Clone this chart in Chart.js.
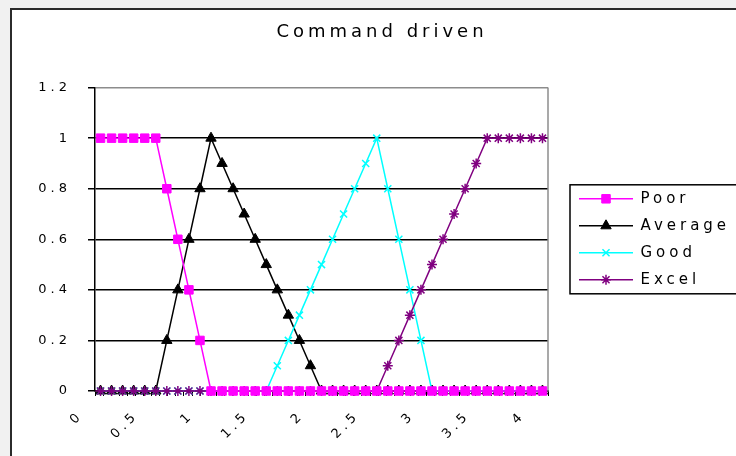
<!DOCTYPE html>
<html lang="en">
<head>
    <meta charset="UTF-8">
    <title>Command driven</title>
    <script src="https://cdn.jsdelivr.net/npm/chart.js@4"></script>
    <style>
        body {
            margin: 0;
            overflow: hidden;
            background: #f1f1f1;
        }
        .frame {
            position: absolute;
            left: 10px;
            top: 8px;
            width: 780px;
            height: 480px;
            background: #fff;
            border: 2px solid #2b2b2b;
        }
        canvas {
            display: block;
        }
    </style>
</head>
<body>
    <div class="frame">
        <canvas id="fuzzyChart" width="740" height="446"></canvas>
    </div>

    <script>
        // x categories (0 .. 4 in steps of 0.1)
        const xValues = [0, 0.1, 0.2, 0.3, 0.4, 0.5, 0.6, 0.7, 0.8, 0.9,
                         1, 1.1, 1.2, 1.3, 1.4, 1.5, 1.6, 1.7, 1.8, 1.9,
                         2, 2.1, 2.2, 2.3, 2.4, 2.5, 2.6, 2.7, 2.8, 2.9,
                         3, 3.1, 3.2, 3.3, 3.4, 3.5, 3.6, 3.7, 3.8, 3.9, 4];
        const xTickLabels = [0, 0.5, 1, 1.5, 2, 2.5, 3, 3.5, 4];
        const yTickValues = [0, 0.2, 0.4, 0.6, 0.8, 1, 1.2];

        // membership values
        const poor = [1, 1, 1, 1, 1, 1, 0.8, 0.6, 0.4, 0.2,
                      0, 0, 0, 0, 0, 0, 0, 0, 0, 0,
                      0, 0, 0, 0, 0, 0, 0, 0, 0, 0,
                      0, 0, 0, 0, 0, 0, 0, 0, 0, 0, 0];
        const average = [0, 0, 0, 0, 0, 0, 0.2, 0.4, 0.6, 0.8,
                         1, 0.9, 0.8, 0.7, 0.6, 0.5, 0.4, 0.3, 0.2, 0.1,
                         0, 0, 0, 0, 0, 0, 0, 0, 0, 0,
                         0, 0, 0, 0, 0, 0, 0, 0, 0, 0, 0];
        const good = [0, 0, 0, 0, 0, 0, 0, 0, 0, 0,
                      0, 0, 0, 0, 0, 0, 0.1, 0.2, 0.3, 0.4,
                      0.5, 0.6, 0.7, 0.8, 0.9, 1, 0.8, 0.6, 0.4, 0.2,
                      0, 0, 0, 0, 0, 0, 0, 0, 0, 0, 0];
        const excel = [0, 0, 0, 0, 0, 0, 0, 0, 0, 0,
                       0, 0, 0, 0, 0, 0, 0, 0, 0, 0,
                       0, 0, 0, 0, 0, 0, 0.1, 0.2, 0.3, 0.4,
                       0.5, 0.6, 0.7, 0.8, 0.9, 1, 1, 1, 1, 1, 1];

        const FONT = 'DejaVu Sans';
        const LETTER_SPACING = '4px';
        const toPoints = ys => xValues.map((x, i) => ({ x: x, y: ys[i] }));

        // wide spaced lettering like the old spreadsheet font
        const spacing = {
            id: 'spacing',
            beforeUpdate(chart) { chart.ctx.letterSpacing = LETTER_SPACING; },
            beforeDraw(chart) { chart.ctx.letterSpacing = LETTER_SPACING; }
        };

        // keep the legend column a fixed width so the plot ends where it should
        const legendWidth = {
            id: 'legendWidth',
            beforeLayout(chart) {
                const lg = chart.legend;
                if (lg && !lg._fixedWidth) {
                    const fit = lg.fit;
                    lg.fit = function () {
                        fit.call(this);
                        this.width = 204;
                    };
                    lg._fixedWidth = true;
                }
            }
        };

        // grey right edge of the plot area
        const plotEdge = {
            id: 'plotEdge',
            beforeDatasetsDraw(chart) {
                const ctx = chart.ctx, a = chart.chartArea;
                ctx.save();
                ctx.strokeStyle = '#8c8c8c';
                ctx.lineWidth = 1.5;
                ctx.beginPath();
                ctx.moveTo(a.right, a.top);
                ctx.lineTo(a.right, a.bottom);
                ctx.stroke();
                ctx.restore();
            }
        };

        // legend samples: line with marker, plus a frame round the legend
        const legendSamples = {
            id: 'legendSamples',
            afterDraw(chart) {
                const lg = chart.legend, ctx = chart.ctx;
                const boxes = lg.legendHitBoxes;
                if (!boxes || !boxes.length) return;
                ctx.save();
                const first = boxes[0], last = boxes[boxes.length - 1];
                const top = first.top + first.height / 2 - 14;
                const bottom = last.top + last.height / 2 + 14;
                ctx.strokeStyle = '#000';
                ctx.lineWidth = 1.5;
                ctx.strokeRect(first.left + 10, top, chart.width - first.left - 8, bottom - top);
                lg.legendItems.forEach((item, i) => {
                    const ds = chart.data.datasets[item.datasetIndex];
                    const b = boxes[i];
                    const y = b.top + b.height / 2;
                    ctx.strokeStyle = ds.borderColor;
                    ctx.lineWidth = ds.borderWidth;
                    ctx.beginPath();
                    ctx.moveTo(b.left + 19, y);
                    ctx.lineTo(b.left + 73, y);
                    ctx.stroke();
                    ctx.fillStyle = ds.pointBackgroundColor;
                    ctx.strokeStyle = ds.pointBorderColor;
                    ctx.lineWidth = ds.pointBorderWidth;
                    Chart.helpers.drawPoint(ctx, {
                        pointStyle: ds.pointStyle,
                        radius: ds.pointRadius,
                        borderWidth: ds.pointBorderWidth,
                        rotation: 0
                    }, b.left + 46, y);
                });
                ctx.restore();
            }
        };

        const ctx = document.getElementById('fuzzyChart').getContext('2d');
        const fuzzyChart = new Chart(ctx, {
            type: 'line',
            data: {
                datasets: [{
                    label: 'Poor',
                    data: toPoints(poor),
                    borderColor: '#ff00ff',
                    backgroundColor: '#ff00ff',
                    pointBackgroundColor: '#ff00ff',
                    pointBorderColor: '#ff00ff',
                    pointStyle: 'rect',
                    pointRadius: 6,
                    pointBorderWidth: 1,
                    borderWidth: 1.5,
                    order: 0
                }, {
                    label: 'Average',
                    data: toPoints(average),
                    borderColor: '#000000',
                    backgroundColor: '#000000',
                    pointBackgroundColor: '#000000',
                    pointBorderColor: '#000000',
                    pointStyle: 'triangle',
                    pointRadius: 6,
                    pointBorderWidth: 1,
                    borderWidth: 1.5,
                    order: 3
                }, {
                    label: 'Good',
                    data: toPoints(good),
                    borderColor: '#00ffff',
                    backgroundColor: '#00ffff',
                    pointBackgroundColor: '#00ffff',
                    pointBorderColor: '#00ffff',
                    pointStyle: 'crossRot',
                    pointRadius: 5,
                    pointBorderWidth: 1.5,
                    borderWidth: 1.5,
                    order: 2
                }, {
                    label: 'Excel',
                    data: toPoints(excel),
                    borderColor: '#800080',
                    backgroundColor: '#800080',
                    pointBackgroundColor: '#800080',
                    pointBorderColor: '#800080',
                    pointStyle: 'star',
                    pointRadius: 5,
                    pointBorderWidth: 1.5,
                    borderWidth: 1.5,
                    order: 1
                }]
            },
            options: {
                responsive: false,
                animation: false,
                clip: false,
                tension: 0,
                plugins: {
                    title: {
                        display: true,
                        text: 'Command driven',
                        color: '#000',
                        font: { family: FONT, size: 18, weight: 'normal' },
                        padding: { top: 12, bottom: 44 }
                    },
                    legend: {
                        position: 'right',
                        fullSize: false,
                        labels: {
                            boxWidth: 73,
                            padding: 12,
                            color: '#000',
                            font: { family: FONT, size: 15 },
                            sort: (a, b) => a.datasetIndex - b.datasetIndex,
                            generateLabels: chart => Chart.defaults.plugins.legend.labels.generateLabels(chart)
                                .map(item => Object.assign(item, {
                                    fillStyle: 'rgba(0,0,0,0)',
                                    strokeStyle: 'rgba(0,0,0,0)',
                                    lineWidth: 0
                                }))
                        }
                    },
                    tooltip: { enabled: false }
                },
                scales: {
                    x: {
                        type: 'linear',
                        position: 'bottom',
                        weight: 2,
                        min: -0.05,
                        max: 4.05,
                        afterBuildTicks: s => { s.ticks = xTickLabels.map(v => ({ value: v })); },
                        afterFit: s => { s.height = 59; },
                        grid: { display: false, drawTicks: false },
                        border: { display: false },
                        ticks: {
                            autoSkip: false,
                            minRotation: 45,
                            maxRotation: 45,
                            labelOffset: -19.5,
                            padding: 11,
                            color: '#000',
                            font: { family: FONT, size: 13 },
                            callback: v => String(v)
                        }
                    },
                    xt: {
                        type: 'linear',
                        position: 'bottom',
                        weight: 1,
                        min: -0.05,
                        max: 4.05,
                        // small tick marks along the bottom axis
                        afterBuildTicks: s => {
                            const t = [];
                            for (let k = 0; k <= 56; k++) t.push({ value: -0.05 + k * 4.1 / 56 });
                            s.ticks = t;
                        },
                        afterFit: s => { s.height = 6; },
                        grid: { drawOnChartArea: false, tickLength: 5, color: '#000', lineWidth: 1 },
                        border: { color: '#000', width: 1.5 },
                        ticks: { display: false }
                    },
                    y: {
                        min: 0,
                        max: 1.2,
                        afterBuildTicks: s => { s.ticks = yTickValues.map(v => ({ value: v })); },
                        afterFit: s => { s.width = 83; },
                        grid: {
                            color: c => (c.tick && c.tick.value >= 1.2) ? '#8c8c8c' : '#000',
                            tickColor: '#000',
                            tickLength: 7,
                            lineWidth: 1.5
                        },
                        border: { color: '#000', width: 1.5 },
                        ticks: {
                            padding: 17,
                            color: '#000',
                            font: { family: FONT, size: 13 },
                            callback: v => String(v)
                        }
                    }
                }
            },
            plugins: [spacing, legendWidth, plotEdge, legendSamples]
        });
    </script>
</body>
</html>
